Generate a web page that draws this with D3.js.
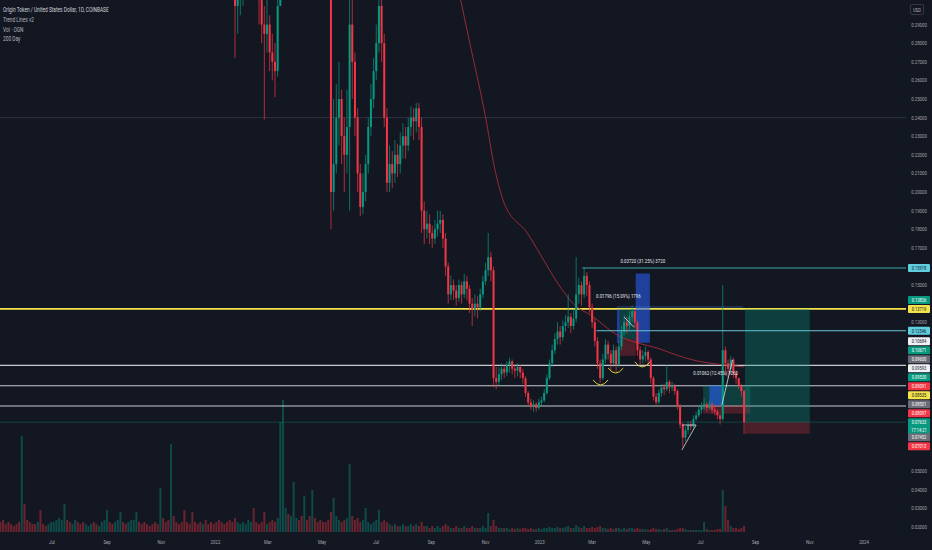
<!DOCTYPE html>
<html>
<head>
<meta charset="utf-8">
<script src="https://cdn.jsdelivr.net/npm/d3@7"></script>
<style>
html, body { margin: 0; padding: 0; background: #131722; overflow: hidden; }
text { font-family: Roboto, "Liberation Sans", sans-serif; }
</style>
</head>
<body>
<script>
// ---- data: OGN/USD, 3-day bars starting 2021-05-04 ----
var startDay = "2021-05-04";
var stepDays = 3;
var firstOpen = 1.70;

var closes = [
  1.60,1.45,1.10,1.05,0.95,0.90,0.85,0.80,0.95,0.88,
  0.78,0.70,0.66,0.60,0.62,0.58,0.55,0.52,0.54,0.57,
  0.62,0.68,0.75,0.80,0.92,0.88,0.84,0.89,0.95,0.91,
  0.86,0.78,0.80,0.84,0.88,0.85,0.82,0.86,0.90,0.93,
  0.98,0.94,0.91,0.95,1.02,1.08,1.04,1.00,1.06,1.12,
  1.18,1.25,1.20,1.14,1.10,1.05,1.00,0.96,0.92,0.88,
  0.98,0.93,0.86,0.82,0.95,0.90,0.84,0.80,0.76,0.70,
  0.66,0.63,0.60,0.58,0.55,0.52,0.54,0.50,0.48,0.46,
  0.44,0.42,0.40,0.37,0.36,0.34,0.33,0.32,0.30,0.305,
  0.31,0.32,0.34,0.36,0.37,0.35,0.33,0.31,0.29,0.285,
  0.29,0.275,0.27,0.265,0.30,0.36,0.45,0.48,0.46,0.50,
  0.55,0.58,0.55,0.52,0.56,0.53,0.50,0.54,0.50,0.46,
  0.44,0.41,0.38,0.35,0.20,0.215,0.24,0.25,0.23,0.22,
  0.235,0.29,0.27,0.24,0.21,0.192,0.20,0.215,0.235,0.25,
  0.265,0.28,0.30,0.28,0.24,0.205,0.215,0.21,0.22,0.215,
  0.225,0.23,0.225,0.235,0.24,0.238,0.245,0.235,0.19,0.18,
  0.183,0.178,0.175,0.18,0.183,0.185,0.175,0.16,0.145,0.15,
  0.147,0.143,0.15,0.145,0.152,0.148,0.14,0.137,0.14,0.138,
  0.145,0.152,0.158,0.165,0.158,0.10,0.098,0.102,0.105,0.103,
  0.107,0.109,0.105,0.104,0.106,0.103,0.10,0.092,0.087,0.085,
  0.086,0.084,0.087,0.088,0.092,0.10,0.108,0.115,0.121,0.125,
  0.122,0.128,0.13,0.133,0.128,0.132,0.145,0.15,0.145,0.155,
  0.15,0.138,0.13,0.12,0.108,0.10,0.11,0.118,0.113,0.108,
  0.115,0.107,0.117,0.125,0.13,0.128,0.133,0.136,0.13,0.115,
  0.11,0.112,0.114,0.11,0.10,0.09,0.087,0.092,0.095,0.094,
  0.098,0.095,0.096,0.093,0.085,0.075,0.068,0.072,0.075,0.074,
  0.078,0.08,0.083,0.085,0.086,0.084,0.086,0.083,0.082,0.08,
  0.078,0.115,0.108,0.105,0.11,0.103,0.10,0.096,0.093,0.0763
];
var highs = [
  1.85,1.70,1.50,1.20,1.10,1.00,0.95,0.90,1.05,0.98,
  0.90,0.80,0.72,0.68,0.66,0.65,0.60,0.57,0.58,0.60,
  0.66,0.74,0.82,0.86,1.00,0.96,0.90,0.94,1.02,0.98,
  0.93,0.88,0.85,0.88,0.93,0.90,0.87,0.90,0.95,0.99,
  1.06,1.00,0.96,1.00,1.08,1.16,1.12,1.07,1.12,1.20,
  1.26,1.35,1.30,1.24,1.18,1.12,1.08,1.03,0.99,0.95,
  1.10,1.02,0.95,0.88,1.12,0.99,0.92,0.86,0.82,0.78,
  0.72,0.68,0.66,0.62,0.60,0.57,0.58,0.56,0.52,0.50,
  0.48,0.46,0.43,0.40,0.38,0.37,0.35,0.34,0.325,0.33,
  0.33,0.34,0.36,0.39,0.40,0.38,0.36,0.34,0.315,0.30,
  0.31,0.295,0.285,0.28,0.31,0.38,0.52,0.55,0.50,0.54,
  0.62,0.64,0.60,0.56,0.62,0.58,0.54,0.60,0.55,0.51,
  0.47,0.45,0.42,0.39,0.35,0.25,0.258,0.27,0.255,0.24,
  0.255,0.33,0.31,0.275,0.245,0.215,0.21,0.22,0.24,0.258,
  0.272,0.29,0.32,0.31,0.285,0.245,0.225,0.222,0.228,0.226,
  0.232,0.237,0.235,0.24,0.246,0.245,0.248,0.248,0.24,0.195,
  0.19,0.188,0.182,0.185,0.19,0.19,0.188,0.178,0.162,0.155,
  0.153,0.15,0.153,0.152,0.156,0.155,0.15,0.143,0.145,0.144,
  0.148,0.155,0.162,0.178,0.168,0.16,0.106,0.106,0.108,0.107,
  0.109,0.111,0.11,0.107,0.108,0.107,0.105,0.101,0.093,0.089,
  0.088,0.087,0.089,0.09,0.094,0.102,0.11,0.118,0.124,0.13,
  0.128,0.131,0.134,0.145,0.135,0.137,0.165,0.154,0.152,0.1592,
  0.157,0.152,0.14,0.132,0.122,0.11,0.113,0.121,0.12,0.115,
  0.118,0.117,0.12,0.128,0.134,0.133,0.136,0.139,0.137,0.131,
  0.117,0.115,0.117,0.115,0.111,0.101,0.092,0.094,0.097,0.097,
  0.107,0.099,0.098,0.097,0.094,0.086,0.076,0.074,0.077,0.077,
  0.08,0.082,0.085,0.087,0.089,0.087,0.088,0.087,0.085,0.083,
  0.081,0.15,0.117,0.11,0.112,0.111,0.104,0.1,0.097,0.094
];
var lows = [
  1.45,1.30,0.95,0.90,0.85,0.82,0.78,0.72,0.75,0.82,
  0.70,0.62,0.58,0.55,0.56,0.52,0.50,0.48,0.50,0.52,
  0.56,0.61,0.67,0.73,0.78,0.82,0.78,0.82,0.88,0.85,
  0.80,0.72,0.74,0.78,0.82,0.80,0.77,0.80,0.84,0.87,
  0.90,0.88,0.86,0.89,0.94,1.00,0.98,0.95,0.98,1.05,
  1.10,1.15,1.12,1.08,1.02,0.98,0.93,0.90,0.86,0.82,
  0.85,0.87,0.80,0.76,0.78,0.84,0.78,0.74,0.70,0.64,
  0.60,0.58,0.54,0.53,0.50,0.48,0.50,0.46,0.44,0.42,
  0.40,0.39,0.38,0.35,0.34,0.33,0.315,0.31,0.272,0.285,
  0.295,0.30,0.315,0.33,0.35,0.33,0.315,0.29,0.28,0.239,
  0.275,0.265,0.26,0.251,0.262,0.30,0.35,0.43,0.42,0.45,
  0.48,0.53,0.50,0.48,0.50,0.49,0.46,0.48,0.46,0.42,
  0.40,0.38,0.35,0.32,0.18,0.19,0.21,0.225,0.215,0.20,
  0.21,0.19,0.25,0.23,0.20,0.187,0.188,0.195,0.21,0.23,
  0.245,0.26,0.275,0.27,0.235,0.20,0.20,0.202,0.205,0.208,
  0.21,0.218,0.218,0.222,0.23,0.228,0.232,0.228,0.178,0.172,
  0.175,0.172,0.17,0.172,0.176,0.178,0.17,0.155,0.14,0.142,
  0.142,0.139,0.141,0.14,0.143,0.142,0.135,0.128,0.133,0.132,
  0.136,0.143,0.15,0.155,0.152,0.095,0.094,0.096,0.099,0.10,
  0.101,0.103,0.102,0.10,0.101,0.10,0.097,0.09,0.085,0.083,
  0.082,0.082,0.083,0.085,0.087,0.091,0.099,0.106,0.113,0.118,
  0.118,0.12,0.125,0.127,0.124,0.126,0.13,0.14,0.139,0.143,
  0.144,0.135,0.127,0.117,0.105,0.0975,0.099,0.108,0.11,0.104,
  0.106,0.103,0.106,0.115,0.123,0.124,0.126,0.13,0.127,0.112,
  0.107,0.108,0.109,0.107,0.097,0.088,0.0855,0.086,0.09,0.091,
  0.093,0.092,0.093,0.091,0.083,0.073,0.063,0.066,0.07,0.072,
  0.073,0.077,0.079,0.081,0.083,0.082,0.083,0.081,0.08,0.078,
  0.075,0.077,0.102,0.10,0.103,0.10,0.097,0.094,0.09,0.07
];
// volume in millions OGN
var volumes = [
  5,6,4,5,4,3,4,5,48,14,
  6,5,4,4,5,11,4,3,4,5,
  5,6,7,6,14,6,5,4,6,5,
  4,5,4,3,4,5,4,3,5,6,
  11,5,4,5,6,10,5,4,5,6,
  6,10,5,4,5,4,3,4,5,4,
  22,7,5,6,44,8,5,4,5,11,
  5,4,10,5,4,5,4,6,4,5,
  4,5,6,5,4,5,6,5,7,5,
  4,5,4,6,5,12,5,4,5,10,
  4,5,6,5,7,55,66,12,9,8,
  25,7,6,8,18,6,8,21,7,5,
  6,5,5,6,10,17,8,6,5,6,
  7,34,8,6,7,5,6,12,5,4,
  5,6,11,5,6,5,4,3,4,3,
  3,4,3,3,4,3,4,3,5,3,
  3,2,3,2,3,2,3,4,3,2,
  2,3,2,2,3,2,2,3,2,2,
  2,3,2,9.5,3,6,3,2,2,2,
  2,1.5,2,1.5,2,1.5,2,2,1.5,2,
  1.5,1.5,2,1.5,2,2,2.5,2,2,2.5,
  2,2,2.5,3,2,2,3.5,2.5,2,3,
  2,2,2.5,2,2.5,3,2,2,1.5,2,
  1.5,2,2,1.5,2,1.5,2,2,1.5,2,
  1.5,1.5,1.5,1,1.5,2,1.5,1.5,1,1.5,
  2,1,1,1,1.5,2,2,1.5,1,1,
  1,1,1,1,5,1.5,1,1,1,1.5,
  1.5,21,13,6,3,2,2,1.5,2,3
];

// 200 day moving average
var maDates = ["2022-09-22","2022-10-04","2022-10-16","2022-11-01","2022-11-11","2022-11-22",
  "2022-12-18","2023-01-01","2023-01-24","2023-02-07","2023-03-02","2023-03-29","2023-04-21",
  "2023-05-13","2023-06-04","2023-06-27","2023-07-19","2023-08-19"];
var maValues = [0.33,0.3032,0.2763,0.2403,0.2134,0.194,0.178,0.167,0.149,0.1404,0.133,0.1232,0.1189,
  0.1162,0.1124,0.1092,0.1076,0.106];

var legendLines = ["Origin Token / United States Dollar, 1D, COINBASE", "Trend Lines v2", "Vol \u00b7 OGN", "200 Day"];

// drawings
var levelPrices = [0.24, 0.13719, 0.10684, 0.09593, 0.08501];
var levelKinds = ["dim", "yellow", "white", "white", "white"];
var rayStart = ["2023-02-18", "2023-03-06"];
var rayPrice = [0.15918, 0.12546];
var guideFrom = "2023-03-29", guideTo = "2023-08-18", guidePrice = 0.13826;
var lastPrice = 0.07633;

var measureFrom = ["2023-03-29", "2023-04-19", "2023-07-11"];
var measureTo = ["2023-04-01", "2023-05-05", "2023-07-25"];
var measureLow = [0.119, 0.119, 0.08535];
var measureHigh = [0.13696, 0.1562, 0.09597];
var measureLabels = ["0.01796 (15.09%) 1796", "0.03720 (31.25%) 3720", "0.01062 (12.45%) 1062"];

var posFrom = ["2023-04-01", "2023-07-04", "2023-08-20"];
var posTo = ["2023-04-19", "2023-08-26", "2023-11-01"];
var posEntry = [0.121, 0.08535, 0.07633];
var posTarget = [0.13719, 0.0960, 0.13719];
var posStop = [0.112, 0.08097, 0.07013];

var segD0 = ["2023-06-10", "2023-06-10", "2023-07-25", "2023-04-06"];
var segP0 = [0.0614, 0.0748, 0.0856, 0.1328];
var segD1 = ["2023-06-26", "2023-06-26", "2023-08-06", "2023-04-17"];
var segP1 = [0.0748, 0.0748, 0.1097, 0.1274];

var arcFrom = ["2023-03-02", "2023-03-19", "2023-04-18"];
var arcTo = ["2023-03-19", "2023-04-05", "2023-05-05"];
var arcPrice = [0.099, 0.1054, 0.1087];

var tagValues = [0.15918,0.13826,0.13719,0.12546,0.10684,0.10671,0.09600,0.09593,0.09530,0.09091,0.08535,0.08501,0.08097,0.07633,0.07452,0.07013];
var tagKinds = ["cyan","teal","yellow","cyan","white","teal","gray","white","teal","red","yellow","gray","red","teal","gray","red"];
var countdown = "17:14:21";

// ---- layout ----
var W = 932, H = 550, paneR = 906, paneB = 532;
var day = function (s) { return new Date(s + "T00:00:00Z"); };

var svg = d3.select("body").append("svg").attr("width", W).attr("height", H)
  .style("display", "block").style("background", "#131722");

var x = d3.scaleUtc().domain([day("2021-07-01"), day("2024-01-01")]).range([52, 864]);
var y = d3.scaleLinear().domain([0.0173, 0.3032]).range([paneB, 0]);
var yv = d3.scaleLinear().domain([0, 66]).range([paneB, 400]);

var t0 = day(startDay);
var bars = closes.map(function (c, i) {
  return { t: new Date(t0.getTime() + i * stepDays * 864e5), o: i ? closes[i - 1] : firstOpen,
    h: highs[i], l: lows[i], c: c, v: volumes[i] };
});

svg.append("clipPath").attr("id", "pane").append("rect")
  .attr("x", 0).attr("y", 0).attr("width", paneR).attr("height", paneB);
var pane = svg.append("g").attr("clip-path", "url(#pane)");

var UP = "#089981", DN = "#f23645";

// volume
pane.append("g").selectAll("rect").data(bars).enter().append("rect")
  .attr("x", function (d) { return x(d.t) - 1; })
  .attr("width", 2)
  .attr("y", function (d) { return yv(d.v); })
  .attr("height", function (d) { return paneB - yv(d.v); })
  .attr("fill", function (d) { return d.c >= d.o ? UP : DN; })
  .attr("opacity", 0.4);

// full width levels
var levelColor = { dim: "rgba(120,123,134,0.35)", yellow: "#f5e34b", white: "#c9cbd1" };
var levelWidth = { dim: 0.8, yellow: 1.6, white: 1.1 };
pane.append("g").selectAll("line").data(levelPrices).enter().append("line")
  .attr("x1", 0).attr("x2", paneR)
  .attr("y1", function (d) { return y(d); }).attr("y2", function (d) { return y(d); })
  .attr("stroke", function (d, i) { return levelColor[levelKinds[i]]; })
  .attr("stroke-width", function (d, i) { return levelWidth[levelKinds[i]]; });

// last price line
pane.append("line").attr("x1", 0).attr("x2", paneR)
  .attr("y1", y(lastPrice)).attr("y2", y(lastPrice))
  .attr("stroke", UP).attr("stroke-opacity", 0.5).attr("stroke-width", 0.7);

// position boxes
posFrom.forEach(function (f, i) {
  var x0 = x(day(f)), x1 = x(day(posTo[i]));
  pane.append("rect").attr("x", x0).attr("width", x1 - x0)
    .attr("y", y(posTarget[i])).attr("height", y(posEntry[i]) - y(posTarget[i]))
    .attr("fill", "rgba(8,153,129,0.3)");
  pane.append("rect").attr("x", x0).attr("width", x1 - x0)
    .attr("y", y(posEntry[i])).attr("height", y(posStop[i]) - y(posEntry[i]))
    .attr("fill", "rgba(242,54,69,0.25)");
});

// measure rectangles
measureFrom.forEach(function (f, i) {
  var x0 = x(day(f)), x1 = x(day(measureTo[i]));
  pane.append("rect").attr("x", x0).attr("width", Math.max(2, x1 - x0))
    .attr("y", y(measureHigh[i])).attr("height", y(measureLow[i]) - y(measureHigh[i]))
    .attr("fill", "rgba(41,98,255,0.55)");
});

// 200 day MA
var ma = maDates.map(function (d, i) { return [day(d), maValues[i]]; });
pane.append("path").datum(ma)
  .attr("d", d3.line().x(function (d) { return x(d[0]); }).y(function (d) { return y(d[1]); })
    .curve(d3.curveMonotoneX))
  .attr("fill", "none").attr("stroke", "#a82a3a").attr("stroke-width", 0.9);

// candles
var cg = pane.append("g");
cg.selectAll("line").data(bars).enter().append("line")
  .attr("x1", function (d) { return x(d.t); }).attr("x2", function (d) { return x(d.t); })
  .attr("y1", function (d) { return y(d.h); }).attr("y2", function (d) { return y(d.l); })
  .attr("stroke", function (d) { return d.c >= d.o ? UP : DN; })
  .attr("stroke-width", 0.7);
cg.selectAll("rect").data(bars).enter().append("rect")
  .attr("x", function (d) { return x(d.t) - 1; })
  .attr("width", 2)
  .attr("y", function (d) { return y(Math.max(d.o, d.c)); })
  .attr("height", function (d) { return Math.max(0.8, Math.abs(y(d.o) - y(d.c))); })
  .attr("fill", function (d) { return d.c >= d.o ? UP : DN; });

// rays to the right edge
var rayColor = ["#3fa9a8", "#67c6d4"];
rayStart.forEach(function (s, i) {
  pane.append("line").attr("x1", x(day(s))).attr("x2", paneR)
    .attr("y1", y(rayPrice[i])).attr("y2", y(rayPrice[i]))
    .attr("stroke", rayColor[i]).attr("stroke-width", 1);
});
pane.append("line").attr("x1", x(day(guideFrom))).attr("x2", x(day(guideTo)))
  .attr("y1", y(guidePrice)).attr("y2", y(guidePrice))
  .attr("stroke", "#4b7fd6").attr("stroke-opacity", 0.7).attr("stroke-width", 0.7);

// trend line segments
segD0.forEach(function (d, i) {
  pane.append("line").attr("x1", x(day(d))).attr("y1", y(segP0[i]))
    .attr("x2", x(day(segD1[i]))).attr("y2", y(segP1[i]))
    .attr("stroke", "#d8dce6").attr("stroke-width", 0.8);
});

// arcs
arcFrom.forEach(function (d, i) {
  var x0 = x(day(d)), x1 = x(day(arcTo[i])), yy = y(arcPrice[i]);
  pane.append("path").attr("d", "M" + x0 + "," + yy + " Q" + ((x0 + x1) / 2) + "," + (yy + 10) + " " + x1 + "," + yy)
    .attr("fill", "none").attr("stroke", "#d9d43a").attr("stroke-width", 1);
});

// measure labels
measureLabels.forEach(function (s, i) {
  var cx = (x(day(measureFrom[i])) + x(day(measureTo[i]))) / 2;
  pane.append("text").attr("class", "sq").attr("x", cx).attr("y", y(measureHigh[i]) - 11)
    .attr("text-anchor", "middle").attr("font-size", 6).attr("fill", "#e6e8ee").text(s);
});

// ---- price scale tags: last price tag stays on its price, the others stack around it ----
var tagH = 9;
var tags = tagValues.map(function (v, i) {
  var last = v === lastPrice;
  return { v: v, kind: tagKinds[i], last: last, want: y(v), y: y(v),
    lines: last ? [v.toFixed(5), countdown] : [v.toFixed(5)] };
}).sort(function (a, b) { return a.want - b.want; });
var li = tags.findIndex(function (t) { return t.last; });
for (var k = li - 1; k >= 0; k--) tags[k].y = Math.min(tags[k].want, tags[k + 1].y - tagH);
tags[li + 1].y = Math.max(tags[li + 1].want, tags[li].y + 15);
for (var k2 = li + 2; k2 < tags.length; k2++) tags[k2].y = Math.max(tags[k2].want, tags[k2 - 1].y + tagH);

var ax = svg.append("g");
var ticks = d3.range(2, 30).map(function (n) { return n / 100; });
ticks.forEach(function (v) {
  var ty = y(v);
  var hit = tags.some(function (t) { return ty > t.y - 8 && ty < t.y + (t.last ? 17 : 8); });
  if (hit) return;
  ax.append("text").attr("class", "sq").attr("x", 919).attr("y", ty + 2)
    .attr("text-anchor", "middle").attr("font-size", 6).attr("fill", "#a3a6af").text(v.toFixed(5));
});

var tagFill = { cyan: "#5fcfe0", teal: "#089981", yellow: "#f5e34b", white: "#f0f1f4", gray: "#6a6d78", red: "#f23645" };
var tagInk = { cyan: "#131722", teal: "#ffffff", yellow: "#131722", white: "#131722", gray: "#ffffff", red: "#ffffff" };
tags.forEach(function (t) {
  var hh = t.last ? 16 : tagH - 1;
  ax.append("rect").attr("x", 908).attr("y", t.y - 4).attr("width", 22).attr("height", hh)
    .attr("rx", 1).attr("fill", tagFill[t.kind]);
  t.lines.forEach(function (s, j) {
    ax.append("text").attr("class", "sq").attr("x", 919).attr("y", t.y + 2 + j * 8)
      .attr("text-anchor", "middle").attr("font-size", 5.6).attr("fill", tagInk[t.kind]).text(s);
  });
});

ax.append("rect").attr("x", 910.5).attr("y", 4.5).attr("width", 13).attr("height", 10)
  .attr("rx", 1.5).attr("fill", "none").attr("stroke", "#434651").attr("stroke-width", 0.7);
ax.append("text").attr("class", "sq").attr("x", 917).attr("y", 11.6).attr("text-anchor", "middle")
  .attr("font-size", 5.6).attr("fill", "#b2b5be").text("USD");

// ---- time scale ----
var months = x.ticks(d3.utcMonth.every(2));
months.forEach(function (m) {
  ax.append("text").attr("class", "sq").attr("x", x(m)).attr("y", 544).attr("text-anchor", "middle")
    .attr("font-size", 6).attr("fill", "#a3a6af")
    .text(m.getUTCMonth() === 0 ? d3.utcFormat("%Y")(m) : d3.utcFormat("%b")(m));
});

// ---- legend (narrowed like the reference) ----
legendLines.forEach(function (s, i) {
  ax.append("text").attr("transform", "translate(3," + (12 + i * 9.8) + ") scale(0.74,1)")
    .attr("font-size", 6.5).attr("fill", i === 0 ? "#d1d4dc" : "#b2b5be").text(s);
});

// squeeze numeric text horizontally like the reference
svg.selectAll("text.sq").each(function () {
  var L = this.getComputedTextLength();
  if (L > 0) {
    this.setAttribute("textLength", (L * 0.72).toFixed(2));
    this.setAttribute("lengthAdjust", "spacingAndGlyphs");
  }
});
</script>
</body>
</html>
